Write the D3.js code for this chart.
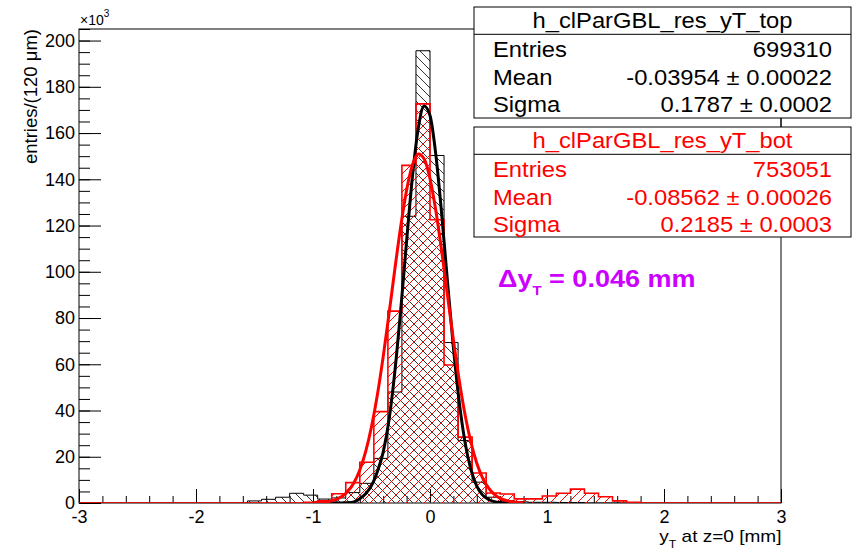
<!DOCTYPE html>
<html>
<head>
<meta charset="utf-8">
<script src="https://cdn.jsdelivr.net/npm/d3@7"></script>
<style>
  body { margin: 0; background: #fff; }
  text { font-family: "Liberation Sans", Arial, Helvetica, sans-serif; }
</style>
</head>
<body>
<div id="chart"></div>
<script>
const width = 859, height = 549;
const margin = {top: 29, right: 78, bottom: 46, left: 79};

// 50 bins of 120 um from -3 to 3 mm
const xMin = -3, xMax = 3, binWidth = 0.12;

// bin contents in units of 10^3 entries
const topCounts = [
  0, 0, 0, 0, 0, 0, 0, 0, 0, 0,
  0, 0, 0.9, 1.6, 2.5, 4.2, 3.4, 1.7, 2.2, 4.5,
  8.5, 19.3, 48, 124, 195.6, 150.3, 69.4, 27, 9, 2.5,
  1.0, 0.5, 0.3, 0.3, 0.2, 0.2, 0, 0, 0, 0,
  0, 0, 0, 0, 0, 0, 0, 0, 0, 0
];
const botCounts = [
  0, 0, 0, 0, 0, 0, 0, 0, 0, 0,
  0, 0, 0, 0, 0, 0, 0.3, 0.9, 4.0, 8.8,
  17.6, 39.5, 83, 146, 172.6, 122.5, 59.7, 28.5, 13, 4.3,
  3.9, 1.8, 1.8, 3.0, 4.2, 6.0, 4.2, 2.7, 0.9, 0.3,
  0, 0, 0, 0, 0, 0, 0, 0, 0, 0
];

// gaussian fits (x in mm, y in 10^3)
const fitX = [-1.0, -0.95, -0.9, -0.85, -0.8, -0.75, -0.7, -0.65, -0.6, -0.55,
  -0.5, -0.45, -0.4, -0.35, -0.3, -0.25, -0.2, -0.15, -0.1, -0.05,
  0, 0.05, 0.1, 0.15, 0.2, 0.25, 0.3, 0.35, 0.4, 0.45,
  0.5, 0.55, 0.6, 0.65, 0.7, 0.75, 0.8];
const topFit = [0, 0, 0, 0, 0.01, 0.05, 0.14, 0.5, 1.8, 4,
  7.5, 13.5, 22, 36, 57.0, 83.7, 113.2, 141.2, 162.2, 171.7,
  167.6, 150.6, 124.9, 95.4, 67.2, 43.6, 26.1, 14.4, 7.3, 3.4,
  1.5, 0.6, 0.2, 0.07, 0.02, 0.01, 0];
const botFit = [0.08, 0.19, 0.4, 0.8, 1.6, 2.9, 5.2, 8.8, 14.3, 22.2,
  33.0, 46.7, 63.3, 81.9, 101.3, 119.7, 135.3, 146.2, 150.9, 148.8,
  140.3, 126.4, 108.9, 89.6, 70.5, 53.0, 38.1, 26.2, 17.2, 10.8,
  6.5, 3.7, 2.0, 1.1, 0.5, 0.25, 0.12];

const xTicks = [-3, -2, -1, 0, 1, 2, 3];
const yTicks = [0, 20, 40, 60, 80, 100, 120, 140, 160, 180, 200];

const topStats = [["Entries", "699310"], ["Mean", "-0.03954 \u00b1 0.00022"], ["Sigma", "0.1787 \u00b1 0.0002"]];
const botStats = [["Entries", "753051"], ["Mean", "-0.08562 \u00b1 0.00026"], ["Sigma", "0.2185 \u00b1 0.0003"]];

const svg = d3.select("#chart")
  .append("svg")
  .attr("width", width)
  .attr("height", height);

svg.append("rect").attr("width", width).attr("height", height).attr("fill", "#fff");

const xScale = d3.scaleLinear()
  .domain([xMin, xMax])
  .range([margin.left, width - margin.right]);

const yScale = d3.scaleLinear()
  .domain([0, 205])
  .range([height - margin.bottom, margin.top]);

// hatch patterns (9 px period, aliased like the ROOT output)
const defs = svg.append("defs");
defs.append("pattern")
  .attr("id", "hatchBlack")
  .attr("patternUnits", "userSpaceOnUse")
  .attr("width", 9).attr("height", 9)
  .append("path")
  .attr("d", "M-2,-2 L11,11 M-2,7 L2,11 M7,-2 L11,2")
  .attr("stroke", "#333").attr("stroke-width", 1)
  .attr("shape-rendering", "crispEdges");
defs.append("pattern")
  .attr("id", "hatchRed")
  .attr("patternUnits", "userSpaceOnUse")
  .attr("width", 9).attr("height", 9)
  .append("path")
  .attr("d", "M-2,11 L11,-2 M-2,2 L2,-2 M7,11 L11,7")
  .attr("stroke", "#ff0000").attr("stroke-width", 1)
  .attr("shape-rendering", "crispEdges");
defs.append("clipPath").attr("id", "plotClip")
  .append("rect")
  .attr("x", margin.left).attr("y", margin.top)
  .attr("width", width - margin.left - margin.right)
  .attr("height", height - margin.top - margin.bottom);

// axes: major and minor ticks pointing into the frame
const axisFont = (g) => g.attr("font-family", "'Liberation Sans', Arial, sans-serif").attr("font-size", 18);

svg.append("g")
  .attr("transform", `translate(${margin.left},0)`)
  .call(d3.axisLeft(yScale).tickValues(d3.range(0, 206, 5)).tickSize(-11).tickFormat(""))
  .call(g => g.select(".domain").remove());
svg.append("g")
  .attr("transform", `translate(${margin.left},0)`)
  .call(d3.axisLeft(yScale).tickValues(yTicks).tickSize(-22).tickPadding(4))
  .call(axisFont)
  .call(g => g.select(".domain").remove())
  .call(g => g.selectAll("text").attr("fill", "#000"));

svg.append("g")
  .attr("transform", `translate(0,${height - margin.bottom})`)
  .call(d3.axisBottom(xScale).tickValues(d3.range(-3, 3.01, 0.2)).tickSize(-7).tickFormat(""))
  .call(g => g.select(".domain").remove());
svg.append("g")
  .attr("transform", `translate(0,${height - margin.bottom})`)
  .call(d3.axisBottom(xScale).tickValues(xTicks).tickSize(-14).tickPadding(7.5).tickFormat(d => String(d)))
  .call(axisFont)
  .call(g => g.select(".domain").remove())
  .call(g => g.selectAll("text").attr("fill", "#000"));

svg.append("rect")
  .attr("x", margin.left).attr("y", margin.top)
  .attr("width", width - margin.left - margin.right)
  .attr("height", height - margin.top - margin.bottom)
  .attr("fill", "none").attr("stroke", "#000").attr("stroke-width", 1);

// histogram outline as steps
function histPoints(counts) {
  const pts = [[xMin, 0]];
  counts.forEach((c, i) => {
    pts.push([xMin + i * binWidth, c]);
    pts.push([xMin + (i + 1) * binWidth, c]);
  });
  pts.push([xMax, 0]);
  return pts;
}
const histLine = d3.line().x(d => xScale(d[0])).y(d => yScale(d[1]));

const plot = svg.append("g").attr("clip-path", "url(#plotClip)");

plot.append("path")
  .attr("d", histLine(histPoints(topCounts)))
  .attr("fill", "url(#hatchBlack)")
  .attr("stroke", "#000").attr("stroke-width", 1);

plot.append("path")
  .attr("d", histLine(histPoints(botCounts)))
  .attr("fill", "url(#hatchRed)")
  .attr("stroke", "#ff0000").attr("stroke-width", 1.6);

const fitLine = d3.line()
  .x((d, i) => xScale(fitX[i]))
  .y(d => yScale(d))
  .curve(d3.curveMonotoneX);

plot.append("path")
  .attr("d", fitLine(topFit))
  .attr("fill", "none").attr("stroke", "#000").attr("stroke-width", 3)
  .attr("stroke-linejoin", "round");

plot.append("path")
  .attr("d", fitLine(botFit))
  .attr("fill", "none").attr("stroke", "#ff0000").attr("stroke-width", 3)
  .attr("stroke-linejoin", "round");

// x10^3 multiplier
const mult = svg.append("text").attr("x", 80).attr("y", 25).attr("font-size", 14).attr("fill", "#000");
mult.append("tspan").text("\u00d710");
mult.append("tspan").attr("font-size", 10).attr("dy", -8).text("3");

// axis titles
svg.append("text")
  .attr("transform", "translate(37,29) rotate(-90)")
  .attr("text-anchor", "end")
  .attr("font-size", 18.5)
  .text("entries/(120 \u03bcm)");

const xTitle = svg.append("text")
  .attr("transform", "translate(781.5,541.5) scale(1.12,1)")
  .attr("text-anchor", "end")
  .attr("font-size", 17);
xTitle.append("tspan").text("y");
xTitle.append("tspan").attr("font-size", 11).attr("dy", 6).text("T");
xTitle.append("tspan").attr("dy", -6).text(" at z=0 [mm]");

// stat boxes
function statBox(y0, h, title, rows, color) {
  const g = svg.append("g");
  g.append("rect")
    .attr("x", 474).attr("y", y0).attr("width", 377).attr("height", h)
    .attr("fill", "#fff").attr("stroke", "#000").attr("stroke-width", 1);
  g.append("line")
    .attr("x1", 474).attr("x2", 851).attr("y1", y0 + 27.3).attr("y2", y0 + 27.3)
    .attr("stroke", "#000");
  g.append("text")
    .attr("transform", `translate(662.5,${y0 + 20.5}) scale(1.08,1)`)
    .attr("text-anchor", "middle").attr("font-size", 22).attr("fill", color)
    .text(title);
  rows.forEach((r, i) => {
    const yb = y0 + 50.3 + i * 27.3;
    g.append("text")
      .attr("transform", `translate(493,${yb}) scale(1.08,1)`)
      .attr("font-size", 22).attr("fill", color).text(r[0]);
    g.append("text")
      .attr("transform", `translate(832,${yb}) scale(1.08,1)`)
      .attr("text-anchor", "end")
      .attr("font-size", 22).attr("fill", color).text(r[1]);
  });
}
statBox(7, 111, "h_clParGBL_res_yT_top", topStats, "#000");
svg.append("line").attr("x1", 781).attr("x2", 781).attr("y1", 118).attr("y2", 127).attr("stroke", "#000");
statBox(127, 110, "h_clParGBL_res_yT_bot", botStats, "#ff0000");

// offset between top and bottom
const delta = svg.append("text")
  .attr("transform", "translate(498,286.5) scale(1.15,1)")
  .attr("font-size", 23.5).attr("font-weight", "bold").attr("fill", "#cc00ff");
delta.append("tspan").text("\u0394y");
delta.append("tspan").attr("font-size", 13).attr("dy", 8).text("T");
delta.append("tspan").attr("dy", -8).text(" = 0.046 mm");
</script>
</body>
</html>
